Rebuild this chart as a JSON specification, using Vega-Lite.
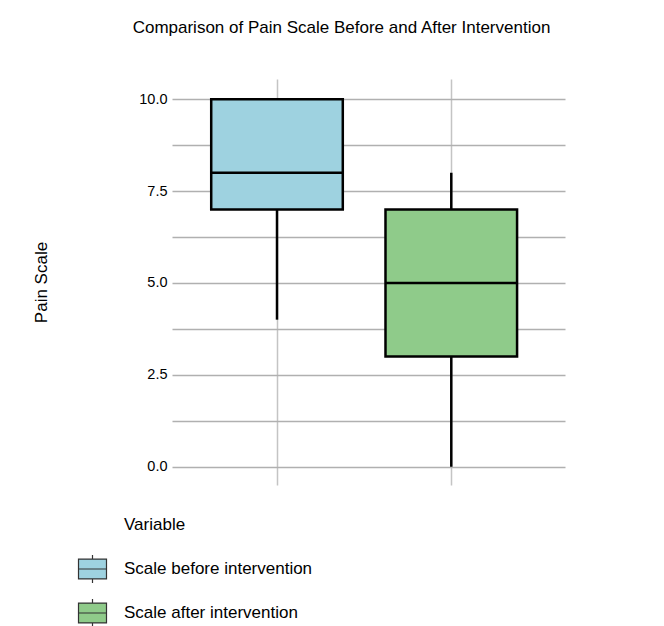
{
  "$schema": "https://vega.github.io/schema/vega-lite/v6.json",
  "autosize": "none",
  "width": 393,
  "height": 406,
  "padding": {"left": 172, "top": 79, "right": 99, "bottom": 141},
  "background": "white",
  "title": {
    "text": "Comparison of Pain Scale Before and After Intervention",
    "font": "Liberation Sans",
    "fontSize": 17,
    "fontWeight": "normal",
    "color": "black",
    "anchor": "middle",
    "dx": -27,
    "offset": 42
  },
  "config": {
    "view": {"stroke": null},
    "font": "Liberation Sans"
  },
  "data": {
    "values": [
      {"Variable": "Scale before intervention", "lower": 4, "q1": 7, "median": 8, "q3": 10, "upper": 10},
      {"Variable": "Scale after intervention", "lower": 0, "q1": 3, "median": 5, "q3": 7, "upper": 8}
    ]
  },
  "encoding": {
    "x": {
      "field": "Variable",
      "type": "nominal",
      "sort": ["Scale before intervention", "Scale after intervention"],
      "scale": {"paddingInner": 0.245, "paddingOuter": 0.25, "align": 0.45},
      "axis": {
        "title": null,
        "labels": false,
        "ticks": false,
        "domain": false,
        "grid": true,
        "bandPosition": 0.5,
        "gridColor": "#c4c4c4",
        "gridWidth": 1.5
      }
    }
  },
  "layer": [
    {
      "mark": {"type": "rule", "color": "black", "strokeWidth": 2.5},
      "encoding": {
        "y": {
          "field": "lower",
          "type": "quantitative",
          "scale": {"domain": [-0.5, 10.55], "nice": false, "zero": false},
          "axis": {
            "title": "Pain Scale",
            "values": [0, 1.25, 2.5, 3.75, 5, 6.25, 7.5, 8.75, 10],
            "labelExpr": "datum.value % 2.5 === 0 ? format(datum.value, '.1f') : ''",
            "grid": true,
            "gridColor": "#b0b0b0",
            "gridWidth": 1.5,
            "ticks": false,
            "domain": false,
            "labelFont": "Liberation Sans",
            "labelFontSize": 14.5,
            "labelColor": "black",
            "labelPadding": 5,
            "titleFont": "Liberation Sans",
            "titleFontSize": 17,
            "titleFontWeight": "normal",
            "titleColor": "black",
            "titlePadding": 88
          }
        },
        "y2": {"field": "upper"}
      }
    },
    {
      "mark": {"type": "bar", "stroke": "black", "strokeWidth": 2.5, "opacity": 1},
      "encoding": {
        "y": {"field": "q1", "type": "quantitative"},
        "y2": {"field": "q3"},
        "fill": {
          "field": "Variable",
          "type": "nominal",
          "scale": {
            "domain": ["Scale before intervention", "Scale after intervention"],
            "range": ["#9ed2e0", "#8fcb8a"]
          },
          "legend": {
            "title": "Variable",
            "orient": "none",
            "legendX": -48,
            "legendY": 438,
            "padding": 0,
            "titleFont": "Liberation Sans",
            "titleFontSize": 17,
            "titleFontWeight": "normal",
            "titleColor": "black",
            "titlePadding": 20,
            "labelFont": "Liberation Sans",
            "labelFontSize": 17,
            "labelColor": "black",
            "labelOffset": 16.5,
            "symbolOffset": -46.5,
            "labelLimit": 400,
            "rowPadding": 10,
            "symbolType": "M-1,-0.71H1V0.71H-1Z M-1,0H1 M0,-0.71V-1 M0,0.71V1",
            "symbolSize": 784,
            "symbolStrokeColor": "#333333",
            "symbolStrokeWidth": 1.2,
            "symbolOpacity": 1
          }
        }
      }
    },
    {
      "mark": {"type": "bar", "stroke": "black", "strokeWidth": 2.5, "fillOpacity": 0},
      "encoding": {
        "y": {"field": "median", "type": "quantitative"},
        "y2": {"field": "median"}
      }
    }
  ]
}
